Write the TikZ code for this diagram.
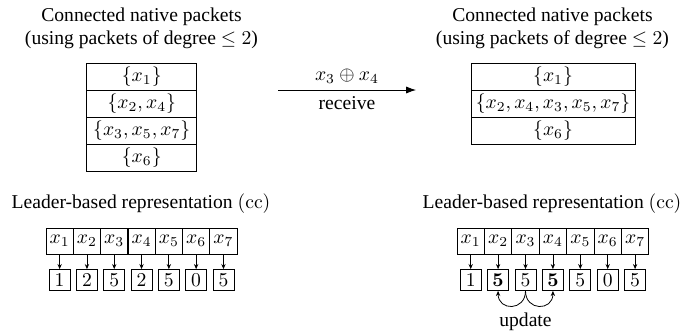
\documentclass[tikz,border=0pt]{standalone}
\usepackage[no-math]{fontspec}
\setmainfont{Liberation Serif}
\usetikzlibrary{positioning}
\usetikzlibrary{arrows.meta}
\tikzset{pktrow/.style={draw, inner sep=0pt, outer sep=0pt, minimum height=13.8pt}}
\tikzset{ldcell/.style={draw, inner sep=0pt, outer sep=0pt, minimum width=14pt, minimum height=13.3pt}}
\tikzset{valbox/.style={draw, inner sep=0pt, minimum size=10.7pt}}
\tikzset{ptr/.style={-{Stealth[length=2.6pt, width=2.2pt]}}}

\begin{document}
\begin{tikzpicture}[x=0.51pt, y=-0.51pt]
    \useasboundingbox (0,0) rectangle (682,331);

    % before: four components
    \node[align=center] (ltitle) at (141.5,28.5)
        {Connected native packets\\(using packets of degree $\leq 2$)};
    \node[pktrow, minimum width=56pt, anchor=north] (l1) at (141.75,63) {$\{x_1\}$};
    \node[pktrow, minimum width=56pt, below=0pt of l1] (l2) {$\{x_2, x_4\}$};
    \node[pktrow, minimum width=56pt, below=0pt of l2] (l3) {$\{x_3, x_5, x_7\}$};
    \node[pktrow, minimum width=56pt, below=0pt of l3] (l4) {$\{x_6\}$};

    % after: merged component
    \node[align=center] (rtitle) at (552.5,28.5)
        {Connected native packets\\(using packets of degree $\leq 2$)};
    \node[pktrow, minimum width=83.6pt, anchor=north] (r1) at (553,63) {$\{x_1\}$};
    \node[pktrow, minimum width=83.6pt, below=0pt of r1] (r2) {$\{x_2, x_4, x_3, x_5, x_7\}$};
    \node[pktrow, minimum width=83.6pt, below=0pt of r2] (r3) {$\{x_6\}$};

    \coordinate (rcvfrom) at (278,90);
    \coordinate (rcvto) at (416,90);
    \draw[-{Latex[length=5pt, width=3.6pt]}] (rcvfrom) -- (rcvto)
        node[midway, above]{$x_3 \oplus x_4$}
        node[midway, below]{receive};

    % leader arrays
    \node (lleader) at (141,204) {Leader-based representation $(\mathrm{cc})$};
    \node (rleader) at (552,204) {Leader-based representation $(\mathrm{cc})$};

    \foreach \i/\v in {1/1, 2/2, 3/5, 4/2, 5/5, 6/0, 7/5} {
        \node[ldcell] (lc\i) at ({46+27.3*(\i-0.5)},241) {$x_\i$};
        \node[valbox, below=7.7pt of lc\i] (lv\i) {$\v$};
        \draw[ptr] (lc\i) -- (lv\i);
    }
    \foreach \i/\v in {1/1, 2/{\mathbf{5}}, 3/5, 4/{\mathbf{5}}, 5/5, 6/0, 7/5} {
        \node[ldcell] (rc\i) at ({457+27.4*(\i-0.5)},241) {$x_\i$};
        \node[valbox, below=7.7pt of rc\i] (rv\i) {$\v$};
        \draw[ptr] (rc\i) -- (rv\i);
    }

    \draw[ptr] (rv3.south) to[out=-90, in=-90, looseness=1.9] (rv2.south);
    \draw[ptr] (rv3.south) to[out=-90, in=-90, looseness=1.9] (rv4.south);
    \node[below=7.5pt of rv3.south] (upd) {update};
\end{tikzpicture}
\end{document}
